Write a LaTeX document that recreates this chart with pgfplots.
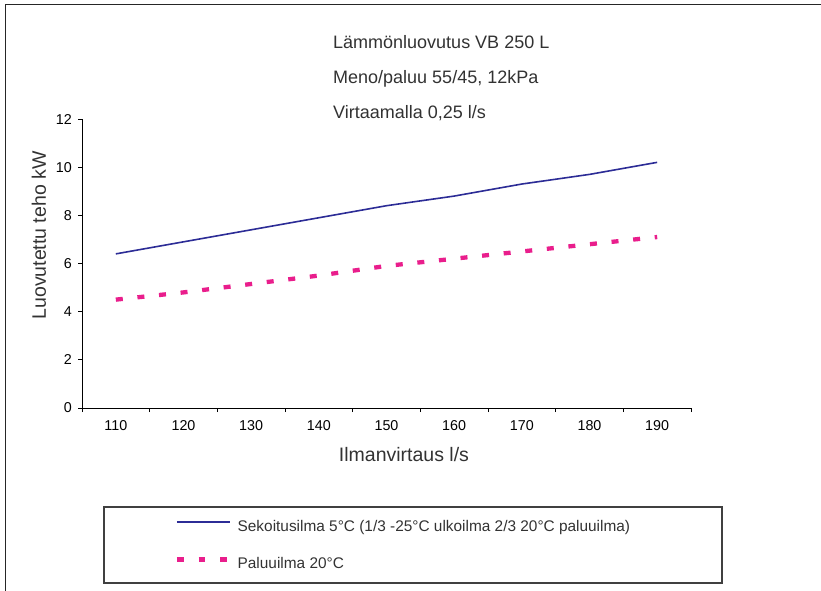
\documentclass[border=0pt]{standalone}
\usepackage{fontspec}
\setmainfont{Liberation Sans}
\usepackage{pgfplots}
\pgfplotsset{compat=1.18}
\definecolor{navyline}{RGB}{44,44,150}
\definecolor{pinkline}{RGB}{233,30,140}
\definecolor{txt}{RGB}{50,50,50}
\begin{document}
\begin{tikzpicture}[x=1pt,y=1pt]
\useasboundingbox (0,0) rectangle (821,-590);
\draw[line width=1.5pt, black!85] (5.5,-600) -- (5.5,-4.5) -- (830,-4.5);
\node[anchor=base west, inner sep=0pt, text=txt, font=\fontsize{18}{20}\selectfont] at (333,-48.5) {Lämmönluovutus VB 250 L};
\node[anchor=base west, inner sep=0pt, text=txt, font=\fontsize{18}{20}\selectfont] at (333,-83.5) {Meno/paluu 55/45, 12kPa};
\node[anchor=base west, inner sep=0pt, text=txt, font=\fontsize{18}{20}\selectfont] at (333,-118) {Virtaamalla 0,25 l/s};
\draw[line width=1.2pt, black!75] (104,-507) rectangle (722,-583);
\begin{axis}[
  at={(82pt,-408pt)}, anchor=south west,
  width=609pt, height=289pt, scale only axis,
  xmin=-0.5, xmax=8.5, ymin=0, ymax=12,
  axis x line*=bottom, axis y line*=left,
  axis line style={-, line width=1pt, black},
  xtick={0,1,2,3,4,5,6,7,8},
  xticklabels={110,120,130,140,150,160,170,180,190},
  minor xtick={-0.5,0.5,1.5,2.5,3.5,4.5,5.5,6.5,7.5,8.5},
  ytick={0,2,4,6,8,10,12},
  tick align=outside, major tick length=4pt, minor tick length=4pt,
  major x tick style={draw=none},
  tick style={line width=0.8pt, black},
  /pgf/number format/assume math mode=true,
  ticklabel style={font=\fontsize{14.3}{16}\selectfont, text=black},
  xticklabel style={inner sep=0pt, text height=10pt, yshift=-8pt},
  yticklabel style={inner sep=0pt, xshift=-6pt},
  xlabel={Ilmanvirtaus l/s},
  ylabel={Luovutettu teho kW},
  label style={font=\fontsize{19.5}{21}\selectfont, text=txt},
  xlabel style={at={(axis description cs:0.5287,-0.1626)}, anchor=center, inner sep=0pt},
  ylabel style={at={(axis description cs:-0.0706,0.597)}, anchor=center, inner sep=0pt},
  legend style={draw=none, fill=none, at={(axis description cs:0.1519,-0.3875)}, anchor=north west,
    inner sep=0pt, row sep=23pt, column sep=7pt, font=\fontsize{15.4}{17}\selectfont,
    nodes={inner sep=0pt, text height=11pt, text depth=3pt, text=txt}},
  legend cell align=left,
  clip=false,
]
\addplot[navyline, line width=1.6pt,
  legend image code/.code={\draw[navyline, line width=1.6pt] (0pt,5pt) -- (53pt,5pt);}]
  coordinates {(0,6.4) (1,6.9) (2,7.4) (3,7.9) (4,8.4) (5,8.8) (6,9.3) (7,9.7) (8,10.2)};
\addlegendentry{Sekoitusilma 5°C (1/3 -25°C ulkoilma 2/3 20°C paluuilma)}
\addplot[pinkline, line width=4.3pt, dash pattern=on 7pt off 14.7pt,
  legend image code/.code={\draw[pinkline, line width=4.3pt, dash pattern=on 6.7pt off 15pt] (0pt,5pt) -- (50pt,5pt);}]
  coordinates {(0,4.5) (1,4.8) (2,5.15) (3,5.5) (4,5.9) (5,6.2) (6,6.5) (7,6.8) (8,7.1)};
\addlegendentry{Paluuilma 20°C}
\end{axis}
\end{tikzpicture}
\end{document}
